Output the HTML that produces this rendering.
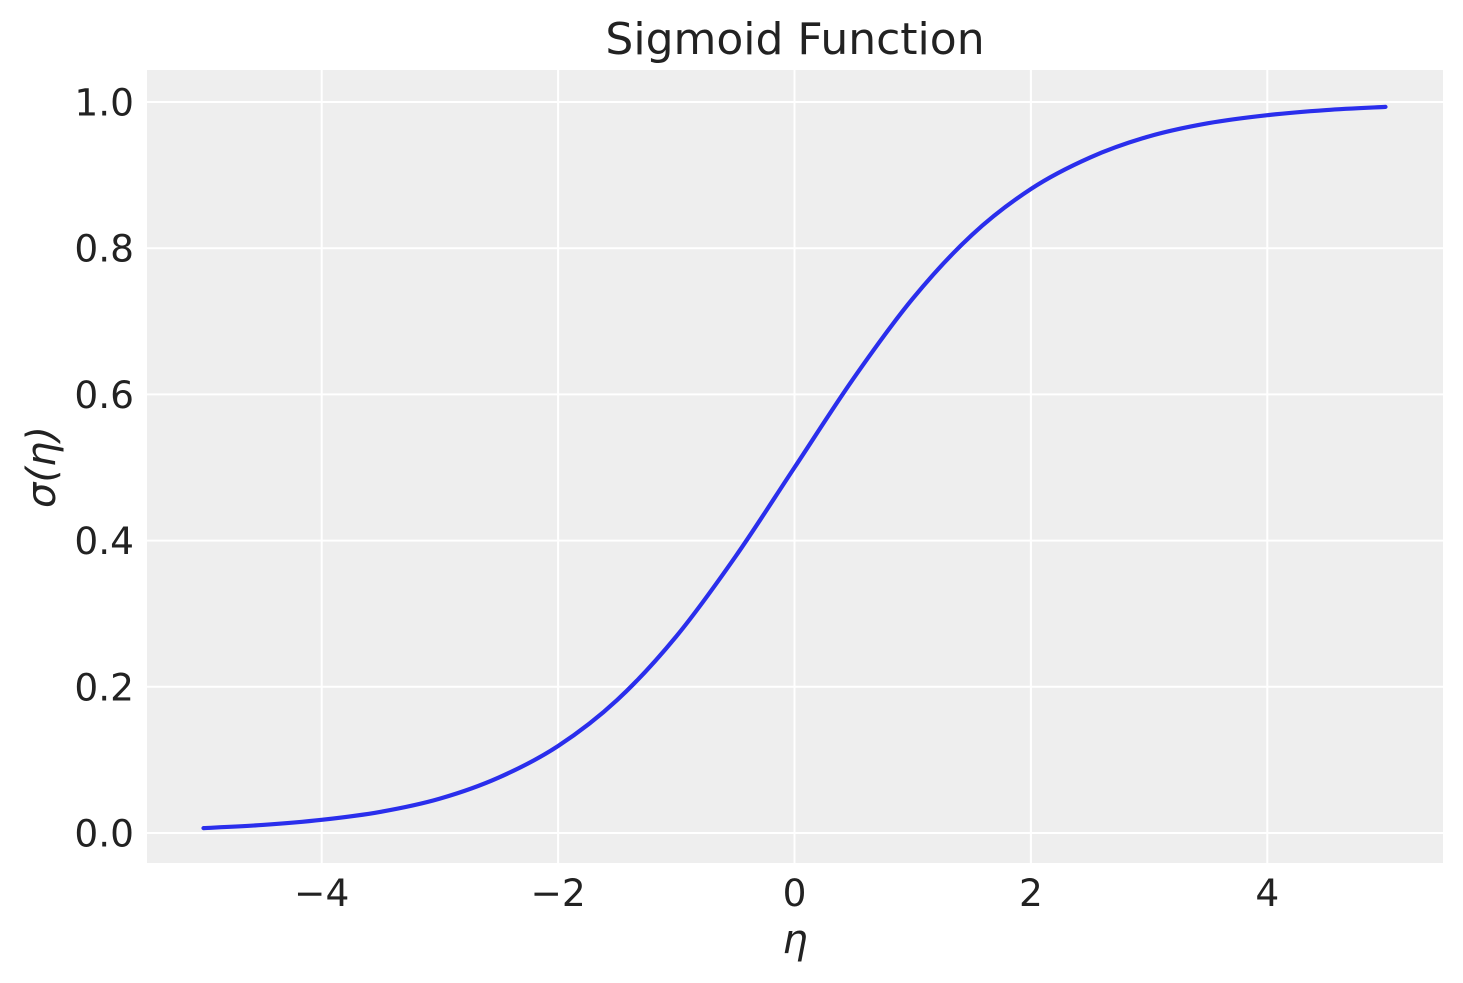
<!DOCTYPE html>
<html><head><meta charset="utf-8"><style>
html,body{margin:0;padding:0;background:#fff;}
svg{display:block;font-family:"DejaVu Sans","Liberation Sans",sans-serif;}
</style></head><body>
<svg width="1463" height="983" viewBox="0 0 1463 983">
<rect x="147" y="70" width="1296" height="793" fill="#eeeeee"/>
<g id="grid"></g>
<g id="series"></g>
<g id="ticks"></g>
<text x="795" y="54" text-anchor="middle" font-size="44" fill="#222">Sigmoid Function</text>
<text x="795" y="953" text-anchor="middle" font-size="40" font-style="italic" fill="#222">η</text>
<text transform="translate(55,467) rotate(-90)" text-anchor="middle" font-size="40" font-style="italic" fill="#222">σ(η)</text>
</svg>
<script>
const xTicks=[-4,-2,0,2,4];
const xTickLabels=["−4","−2","0","2","4"];
const yTicks=[0,0.2,0.4,0.6,0.8,1.0];
const yTickLabels=["0.0","0.2","0.4","0.6","0.8","1.0"];
const etaValues=[-5,-4.5,-4,-3.5,-3,-2.5,-2,-1.5,-1,-0.5,0,0.5,1,1.5,2,2.5,3,3.5,4,4.5,5];
const sigmaValues=[0.0067,0.011,0.018,0.029,0.047,0.076,0.119,0.182,0.269,0.378,0.5,0.622,0.731,0.818,0.881,0.924,0.953,0.971,0.982,0.989,0.9933];
const NS="http://www.w3.org/2000/svg";
const xs=v=>794.5+v*118.2;
const ys=v=>833-v*731;
const grid=document.getElementById('grid'),ticks=document.getElementById('ticks'),series=document.getElementById('series');
function mk(t,a,p){const e=document.createElementNS(NS,t);for(const k in a)e.setAttribute(k,a[k]);p.appendChild(e);return e;}
xTicks.forEach((v,i)=>{
 const l=mk('line',{x1:xs(v),x2:xs(v),y1:70,y2:863,stroke:'#fff','stroke-width':2},grid);
 
 
 const t=mk('text',{x:xs(v),y:906,'text-anchor':'middle','font-size':37.5,fill:'#222'},ticks);
 t.textContent=xTickLabels[i];
 
 
});
yTicks.forEach((v,i)=>{
 const l=mk('line',{x1:147,x2:1443,y1:ys(v),y2:ys(v),stroke:'#fff','stroke-width':2},grid);
 
 
 const t=mk('text',{x:134,y:ys(v)+13.5,'text-anchor':'end','font-size':37.5,fill:'#222'},ticks);
 t.textContent=yTickLabels[i];
 
 
});
const P=etaValues.map((e,i)=>[xs(e),ys(sigmaValues[i])]);
let d='M'+P[0][0]+','+P[0][1];
for(let i=0;i<P.length-1;i++){
 const p0=P[Math.max(0,i-1)],p1=P[i],p2=P[i+1],p3=P[Math.min(P.length-1,i+2)];
 const c1=[p1[0]+(p2[0]-p0[0])/6,p1[1]+(p2[1]-p0[1])/6];
 const c2=[p2[0]-(p3[0]-p1[0])/6,p2[1]-(p3[1]-p1[1])/6];
 d+=`C${c1[0]},${c1[1]} ${c2[0]},${c2[1]} ${p2[0]},${p2[1]}`;
}
const path=mk('path',{d:d,fill:'none',stroke:'#2a2eec','stroke-width':4.2,'stroke-linecap':'round'},series);


</script>
</body></html>
